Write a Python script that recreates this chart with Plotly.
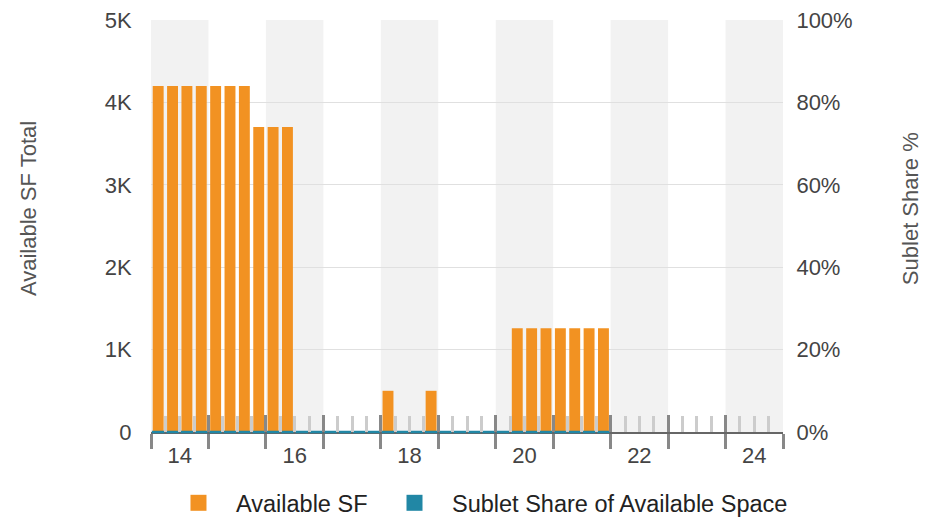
import plotly.graph_objects as go

# ---- data (quarterly) ----
years = [2014]*4 + [2015]*4 + [2016]*4 + [2017]*4 + [2018]*4 + [2019]*4 + [2020]*4 + [2021]*4
quarters = [1, 2, 3, 4] * 8
available_sf = [4200, 4200, 4200, 4200,
                4200, 4200, 4200, 3700,
                3700, 3700, 0, 0,
                0, 0, 0, 0,
                500, 0, 0, 500,
                0, 0, 0, 0,
                0, 1260, 1260, 1260,
                1260, 1260, 1260, 1260]
sublet_share = [0.0] * 32
band_years = list(range(2014, 2025))
label_years = [2014, 2016, 2018, 2020, 2022, 2024]
left_ticks = [0, 1000, 2000, 3000, 4000, 5000]
left_ticktext = ["0", "1K", "2K", "3K", "4K", "5K"]
right_ticks = [0, 0.2, 0.4, 0.6, 0.8, 1.0]

ORANGE = "#F29222"
TEAL = "#2187A5"
FONT = "Liberation Sans, Arial, Helvetica, sans-serif"


def yr(y):
    return y - 2000  # axis shows two-digit years


xpos = [yr(y) - 0.5 + (q - 0.5) / 4 for y, q in zip(years, quarters)]
x_min = yr(band_years[0]) - 0.5
x_max = yr(band_years[-1]) + 0.5
boundaries = [yr(y) - 0.5 for y in band_years] + [x_max]
minor_vals = [yr(y) - 0.5 + k / 4 for y in band_years for k in (1, 2, 3)]

fig = go.Figure()
fig.add_trace(go.Bar(x=xpos, y=available_sf, width=0.19, marker_color=ORANGE,
                     marker_line_width=0, showlegend=False, name="Available SF"))
fig.add_trace(go.Scatter(x=xpos, y=sublet_share, yaxis="y2", mode="markers",
                         marker=dict(symbol="line-ew", size=9, color=TEAL,
                                     line=dict(color=TEAL, width=2.5)),
                         showlegend=False, cliponaxis=False,
                         name="Sublet Share of Available Space"))
# invisible anchors so the helper axes get drawn
fig.add_trace(go.Scatter(x=[None], y=[None], xaxis="x2", showlegend=False, hoverinfo="skip"))
fig.add_trace(go.Scatter(x=[None], y=[None], xaxis="x3", showlegend=False, hoverinfo="skip"))
# legend-only entries
fig.add_trace(go.Scatter(x=[None], y=[None], mode="markers", name="Available SF",
                         marker=dict(symbol="square", size=16, color=ORANGE), legend="legend"))
fig.add_trace(go.Scatter(x=[None], y=[None], mode="markers", name="Sublet Share of Available Space",
                         marker=dict(symbol="square", size=16, color=TEAL), legend="legend2"))

shapes = []
for i, y in enumerate(band_years):
    if i % 2 == 0:
        shapes.append(dict(type="rect", xref="x", yref="paper", x0=yr(y) - 0.5, x1=yr(y) + 0.5,
                           y0=0, y1=1, fillcolor="#F2F2F2", line_width=0, layer="below"))

legend_common = dict(orientation="h", xanchor="left", y=-0.119, yanchor="top",
                     font=dict(size=23.5, color="#222"), itemwidth=65,
                     bgcolor="rgba(0,0,0,0)")

fig.update_layout(
    width=935, height=509,
    margin=dict(l=143, r=160, t=12, b=85, autoexpand=False),
    paper_bgcolor="white", plot_bgcolor="white",
    font=dict(family=FONT, size=22, color="#444"),
    barmode="overlay",
    shapes=shapes,
    xaxis=dict(range=[x_min, x_max], tickmode="array", tickvals=boundaries,
               ticks="outside", ticklen=15, tickwidth=3, tickcolor="#888",
               showticklabels=False, showgrid=False, zeroline=False, automargin=False,
               showline=True, linecolor="#666", linewidth=2, layer="below traces"),
    xaxis2=dict(overlaying="x", anchor="y", range=[x_min, x_max],
                tickmode="array", tickvals=boundaries, ticks="inside", ticklen=17,
                tickwidth=3, tickcolor="#888", showticklabels=False, showgrid=False,
                zeroline=False, showline=False, automargin=False, layer="above traces",
                minor=dict(tickmode="array", tickvals=minor_vals, ticks="inside",
                           ticklen=16, tickwidth=3, tickcolor="#CCCCCC", showgrid=False)),
    xaxis3=dict(overlaying="x", anchor="y", range=[x_min, x_max],
                tickmode="array", tickvals=[yr(y) for y in label_years],
                ticktext=[str(yr(y)) for y in label_years],
                ticks="outside", ticklen=4, tickcolor="rgba(0,0,0,0)",
                tickfont=dict(size=22, color="#444"), showgrid=False,
                zeroline=False, showline=False, automargin=False),
    yaxis=dict(range=[0, 5000], tickmode="array", tickvals=left_ticks, ticktext=left_ticktext,
               showgrid=True, gridcolor="#E0E0E0", gridwidth=1, zeroline=False,
               ticks="outside", ticklen=14, tickcolor="rgba(0,0,0,0)", automargin=False,
               ticklabeloverflow="allow"),
    yaxis2=dict(range=[0, 1], overlaying="y", side="right", tickmode="array",
                tickvals=right_ticks, tickformat=".0%", showgrid=False, zeroline=False,
                ticks="outside", ticklen=8, tickcolor="rgba(0,0,0,0)", automargin=False,
                ticklabeloverflow="allow"),
    annotations=[
        dict(text="Available SF Total", xref="paper", yref="paper", x=-0.1946, y=0.541,
             xanchor="center", yanchor="middle", textangle=-90, showarrow=False,
             font=dict(size=22, color="#555")),
        dict(text="Sublet Share %", xref="paper", yref="paper", x=1.201, y=0.541,
             xanchor="center", yanchor="middle", textangle=-90, showarrow=False,
             font=dict(size=22, color="#555")),
    ],
    legend=dict(x=0.0158, **legend_common),
    legend2=dict(x=0.3576, **legend_common),
)

fig.write_html("out.html")
